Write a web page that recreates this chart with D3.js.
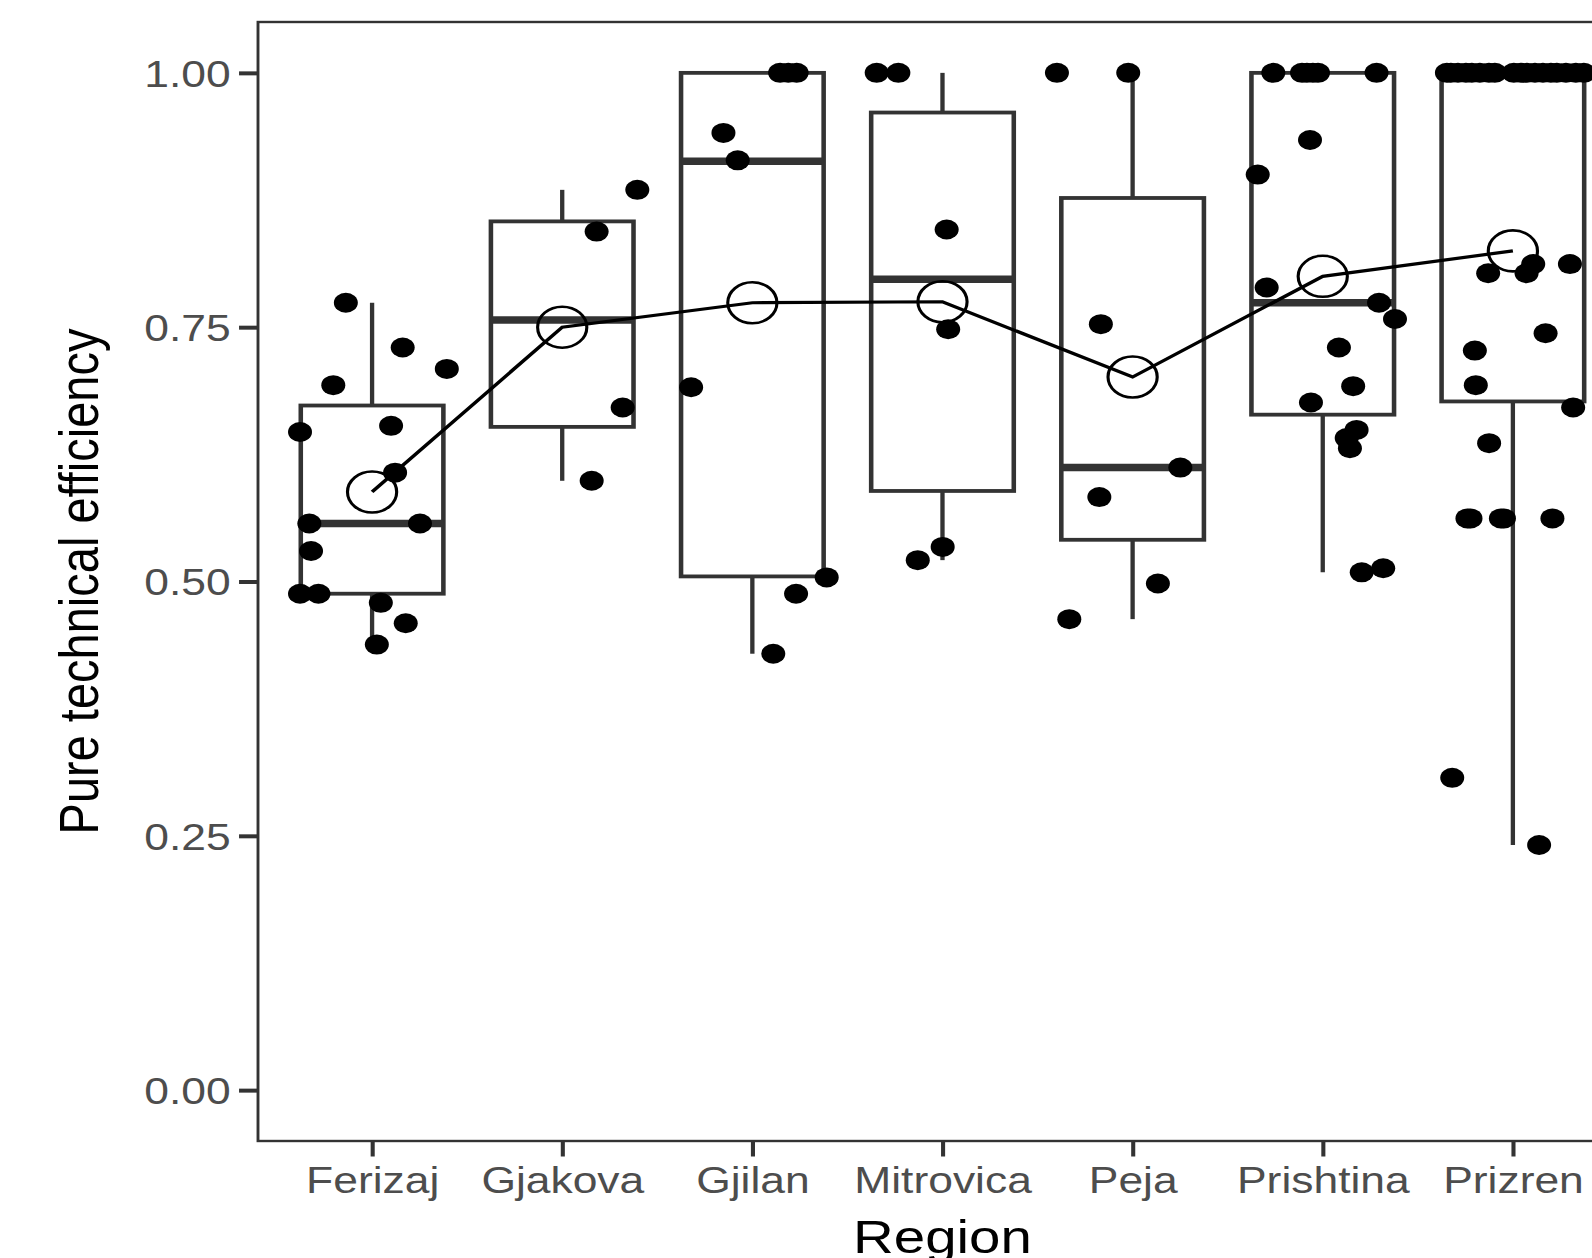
<!DOCTYPE html>
<html><head><meta charset="utf-8">
<script src="https://cdn.jsdelivr.net/npm/d3@7"></script>
<style>html,body{margin:0;padding:0;background:#fff;overflow:hidden}</style>
</head><body>
<svg id="chart" width="1592" height="1258"></svg>
<script>
// ---------------- data ----------------
const regions = ["Ferizaj","Gjakova","Gjilan","Mitrovica","Peja","Prishtina","Prizren"];
const yTicks = [0, 0.25, 0.5, 0.75, 1.0];
const yTickLabels = ["0.00","0.25","0.50","0.75","1.00"];
const xTitle = "Region";
const yTitle = "Pure technical efficiency";

const boxQ1       = [0.488, 0.652, 0.505, 0.589, 0.541, 0.664, 0.677];
const boxMedian   = [0.557, 0.757, 0.913, 0.797, 0.612, 0.774, 1.000];
const boxQ3       = [0.673, 0.854, 1.000, 0.961, 0.877, 1.000, 1.000];
const whiskerLow  = [0.438, 0.599, 0.429, 0.521, 0.463, 0.509, 0.241];
const whiskerHigh = [0.774, 0.885, 1.000, 1.000, 1.000, 1.000, 1.000];
const meanPTE     = [0.588, 0.750, 0.774, 0.775, 0.701, 0.800, 0.825];

// individual observations and their horizontal jitter (in category steps)
const ferizajPTE    = [0.774,0.730,0.709,0.693,0.653,0.647,0.607,0.557,0.557,0.530,0.488,0.488,0.479,0.459,0.438];
const ferizajJitter = [-0.138,0.161,0.393,-0.204,0.100,-0.379,0.121,-0.330,0.252,-0.321,-0.379,-0.282,0.046,0.177,0.025];
const gjakovaPTE    = [0.885,0.844,0.671,0.599];
const gjakovaJitter = [0.395,0.181,0.318,0.155];
const gjilanPTE     = [1,1,1,0.941,0.914,0.691,0.504,0.488,0.429];
const gjilanJitter  = [0.146,0.189,0.233,-0.152,-0.077,-0.322,0.391,0.230,0.110];
const mitrovicaPTE    = [1,1,0.846,0.748,0.534,0.521];
const mitrovicaJitter = [-0.346,-0.232,0.022,0.030,0.001,-0.130];
const pejaPTE       = [1,1,0.753,0.612,0.583,0.498,0.463];
const pejaJitter    = [-0.398,-0.023,-0.167,0.251,-0.175,0.133,-0.333];
const prishtinaPTE    = [1,1,1,1,1,1,0.934,0.900,0.789,0.774,0.758,0.730,0.692,0.676,0.649,0.641,0.631,0.509,0.513];
const prishtinaJitter = [-0.260,-0.109,-0.083,-0.052,-0.025,0.283,-0.067,-0.342,-0.295,0.296,0.380,0.085,0.160,-0.062,0.178,0.126,0.143,0.205,0.318];
const prizrenPTE    = [1,1,1,1,1,1,1,1,1,1,1,1,1,1,1,1,1,1,
                       0.812,0.812,0.803,0.803,0.744,0.727,0.693,0.671,0.636,
                       0.562,0.562,0.562,0.562,0.562,0.307,0.241];
const prizrenJitter = [-0.347,-0.326,-0.289,-0.247,-0.216,-0.174,-0.126,-0.095,0.005,0.042,0.074,0.116,0.158,0.200,0.231,0.279,0.331,0.373,
                       0.107,0.300,-0.130,0.072,0.172,-0.200,-0.195,0.317,-0.125,
                       -0.239,-0.223,-0.063,-0.047,0.208,-0.319,0.138];

const pteByRegion    = [ferizajPTE, gjakovaPTE, gjilanPTE, mitrovicaPTE, pejaPTE, prishtinaPTE, prizrenPTE];
const jitterByRegion = [ferizajJitter, gjakovaJitter, gjilanJitter, mitrovicaJitter, pejaJitter, prishtinaJitter, prizrenJitter];

// ---------------- layout ----------------
const SX = 1.2;                 // the reference is stretched horizontally
const panel = {left: 215, right: 1355.8, top: 22, bottom: 1141};
const FONT = "'Liberation Sans', Arial, Helvetica, sans-serif";
const GREY = "#333333";

const svg = d3.select("#chart");
svg.append("rect").attr("width",1592).attr("height",1258).attr("fill","#fff");
const g = svg.append("g").attr("transform", `scale(${SX},1)`);

const x = d3.scalePoint().domain(regions).range([panel.left, panel.right]).padding(0.6);
const y = d3.scaleLinear().domain([-0.05, 1.05]).range([panel.bottom, panel.top]);
const step = x.step();
const boxW = 0.75 * step;

const boxes = regions.map((r,i) => ({r, q1: boxQ1[i], med: boxMedian[i], q3: boxQ3[i],
  lo: whiskerLow[i], hi: whiskerHigh[i], mean: meanPTE[i]}));

// boxplots
const bg = g.append("g");
boxes.forEach(b => {
  const cx = x(b.r);
  if (b.hi > b.q3) bg.append("line").attr("x1",cx).attr("x2",cx).attr("y1",y(b.q3)).attr("y2",y(b.hi))
      .attr("stroke",GREY).attr("stroke-width",3.6);
  if (b.lo < b.q1) bg.append("line").attr("x1",cx).attr("x2",cx).attr("y1",y(b.q1)).attr("y2",y(b.lo))
      .attr("stroke",GREY).attr("stroke-width",3.6);
  bg.append("rect").attr("x",cx-boxW/2).attr("width",boxW)
    .attr("y",y(b.q3)).attr("height",y(b.q1)-y(b.q3))
    .attr("fill","#fff").attr("stroke",GREY).attr("stroke-width",3.8).attr("stroke-linejoin","miter");
  bg.append("line").attr("x1",cx-boxW/2).attr("x2",cx+boxW/2).attr("y1",y(b.med)).attr("y2",y(b.med))
    .attr("stroke",GREY).attr("stroke-width",7.5);
});

// jittered points
const pts = [];
regions.forEach((r,i) => pteByRegion[i].forEach((v,j) => pts.push({r, v, jit: jitterByRegion[i][j]})));
g.append("g").selectAll("circle").data(pts).join("circle")
  .attr("cx", d => x(d.r) + d.jit*step)
  .attr("cy", d => y(d.v))
  .attr("r", 10)
  .attr("fill","#000");

// mean circles and line
g.append("g").selectAll("circle").data(boxes).join("circle")
  .attr("cx", d => x(d.r)).attr("cy", d => y(d.mean)).attr("r", 20.5)
  .attr("fill","none").attr("stroke","#000").attr("stroke-width",2.6);
g.append("path").datum(boxes)
  .attr("d", d3.line().x(d => x(d.r)).y(d => y(d.mean)))
  .attr("fill","none").attr("stroke","#000").attr("stroke-width",3.2);

// panel border
g.append("rect").attr("x",panel.left).attr("y",panel.top)
  .attr("width",panel.right-panel.left).attr("height",panel.bottom-panel.top)
  .attr("fill","none").attr("stroke",GREY).attr("stroke-width",2.4);

// axes
const yAxis = g.append("g").attr("transform",`translate(${panel.left},0)`)
  .call(d3.axisLeft(y).tickValues(yTicks).tickFormat((d,i) => yTickLabels[i]).tickSize(15.8).tickPadding(7));
yAxis.select(".domain").remove();
yAxis.selectAll(".tick line").attr("stroke",GREY).attr("stroke-width",4);
yAxis.selectAll(".tick text").attr("fill","#4D4D4D").attr("font-size",37).attr("font-family",FONT).attr("dy","0.357em");

const xAxis = g.append("g").attr("transform",`translate(0,${panel.bottom})`)
  .call(d3.axisBottom(x).tickSize(15.5).tickPadding(7));
xAxis.select(".domain").remove();
xAxis.selectAll(".tick line").attr("stroke",GREY).attr("stroke-width",3.4);
xAxis.selectAll(".tick text").attr("fill","#4D4D4D").attr("font-size",37).attr("font-family",FONT)
  .attr("y",52).attr("dy",0);

// titles
g.append("text").attr("x",(panel.left+panel.right)/2).attr("y",1253)
  .attr("text-anchor","middle").attr("font-size",47).attr("font-family",FONT).attr("fill","#000").text(xTitle);
g.append("text").attr("transform",`translate(82,${(panel.top+panel.bottom)/2}) rotate(-90)`)
  .attr("text-anchor","middle").attr("font-size",47).attr("font-family",FONT).attr("fill","#000").text(yTitle);
</script>
</body></html>
